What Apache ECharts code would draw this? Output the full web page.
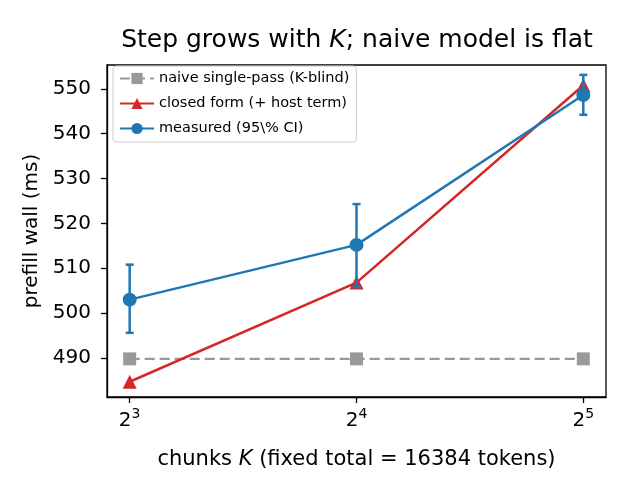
<!DOCTYPE html>
<html>
<head>
<meta charset="utf-8">
<script src="https://cdn.jsdelivr.net/npm/echarts@6/dist/echarts.min.js"></script>
<style>
  html, body { margin: 0; padding: 0; background: #fff; }
  #main { width: 630px; height: 495px; }
</style>
</head>
<body>
<div id="main"></div>
<script>
// chunk counts K and the measured / modelled prefill wall times (ms)
const chunks = [8, 16, 32];
const naive = [489.8, 489.8, 489.8];
const closedForm = [484.7, 506.8, 550.8];
const measured = [503.0, 515.2, 548.6];
const ciLow = [495.6, 505.8, 544.2];
const ciHigh = [510.8, 524.3, 553.1];
const yTicks = [490, 500, 510, 520, 530, 540, 550];
const xTicks = [3, 4, 5]; // log2(K)

const FONT = 'DejaVu Sans';
const blue = '#1f77b4', red = '#d62728', gray = '#999999';

let myChart = echarts.init(document.getElementById('main'));

const lx = chunks.map(k => Math.log2(k));

myChart.setOption({
    animation: false,
    textStyle: { fontFamily: FONT },
    title: {
        text: 'Step grows with {i|K}; naive model is flat',
        left: 352,
        top: 23,
        textAlign: 'center',
        textStyle: {
            fontFamily: FONT, fontSize: 25, fontWeight: 'normal', color: '#000',
            rich: { i: { fontFamily: FONT, fontSize: 25, fontStyle: 'italic', color: '#000' } }
        }
    },
    legend: {
        orient: 'vertical',
        left: 113,
        top: 66,
        itemWidth: 34,
        itemHeight: 14,
        itemGap: 10,
        padding: [5, 7, 6, 6],
        borderColor: '#cccccc',
        borderWidth: 1,
        borderRadius: 3,
        backgroundColor: 'rgba(255,255,255,0.8)',
        textStyle: { fontFamily: FONT, fontSize: 14.5, color: '#000' },
        data: ['naive single-pass (K-blind)', 'closed form (+ host term)', 'measured (95\\% CI)']
    },
    grid: {
        left: 107, right: 24, top: 65, bottom: 98,
        show: true, borderColor: '#000', borderWidth: 1.3
    },
    xAxis: {
        type: 'value',
        min: 2.9, max: 5.1,
        name: 'chunks {i|K} (fixed total = 16384 tokens)',
        nameLocation: 'middle',
        nameGap: 52,
        nameTextStyle: {
            fontFamily: FONT, fontSize: 21, color: '#000',
            rich: { i: { fontFamily: FONT, fontSize: 21, fontStyle: 'italic', color: '#000' } }
        },
        axisLine: { show: true, lineStyle: { color: '#000', width: 1.3 } },
        axisTick: { show: true, customValues: xTicks, length: 6, lineStyle: { color: '#000', width: 1.3 } },
        axisLabel: {
            customValues: xTicks,
            margin: 10,
            formatter: v => '{b|2}{s|' + v + '}',
            rich: {
                b: { fontFamily: FONT, fontSize: 20, color: '#000', verticalAlign: 'bottom' },
                s: { fontFamily: FONT, fontSize: 14, color: '#000', verticalAlign: 'top', padding: [0, 0, 10, 0] }
            }
        },
        splitLine: { show: false }
    },
    yAxis: {
        type: 'value',
        min: 481.3, max: 555.3,
        name: 'prefill wall (ms)',
        nameLocation: 'middle',
        nameGap: 64,
        nameTextStyle: { fontFamily: FONT, fontSize: 20, color: '#000' },
        axisLine: { show: true, lineStyle: { color: '#000', width: 1.3 } },
        axisTick: { show: true, customValues: yTicks, length: 6, lineStyle: { color: '#000', width: 1.3 } },
        axisLabel: { customValues: yTicks, fontFamily: FONT, fontSize: 20, color: '#000', margin: 16 },
        splitLine: { show: false }
    },
    series: [
        {
            name: 'naive single-pass (K-blind)',
            type: 'line',
            data: lx.map((x, i) => [x, naive[i]]),
            symbol: 'rect',
            symbolSize: 13,
            itemStyle: { color: gray },
            lineStyle: { color: gray, width: 2.2, type: [10, 5] },
            z: 2
        },
        {
            name: 'closed form (+ host term)',
            type: 'line',
            data: lx.map((x, i) => [x, closedForm[i]]),
            symbol: 'triangle',
            symbolSize: 14,
            itemStyle: { color: red },
            lineStyle: { color: red, width: 2.5 },
            z: 3
        },
        {
            name: 'measured (95\\% CI)',
            type: 'line',
            data: lx.map((x, i) => [x, measured[i]]),
            symbol: 'circle',
            symbolSize: 14,
            itemStyle: { color: blue },
            lineStyle: { color: blue, width: 2.5 },
            z: 4
        },
        {
            name: 'ci',
            type: 'custom',
            data: lx.map((x, i) => [x, ciLow[i], ciHigh[i]]),
            renderItem: function (params, api) {
                const lo = api.coord([api.value(0), api.value(1)]);
                const hi = api.coord([api.value(0), api.value(2)]);
                const w = 4;
                const style = { stroke: blue, lineWidth: 2.5 };
                return {
                    type: 'group',
                    children: [
                        { type: 'line', shape: { x1: lo[0], y1: lo[1], x2: hi[0], y2: hi[1] }, style },
                        { type: 'line', shape: { x1: lo[0] - w, y1: lo[1], x2: lo[0] + w, y2: lo[1] }, style },
                        { type: 'line', shape: { x1: hi[0] - w, y1: hi[1], x2: hi[0] + w, y2: hi[1] }, style }
                    ]
                };
            },
            z: 4
        }
    ]
});
</script>
</body>
</html>
